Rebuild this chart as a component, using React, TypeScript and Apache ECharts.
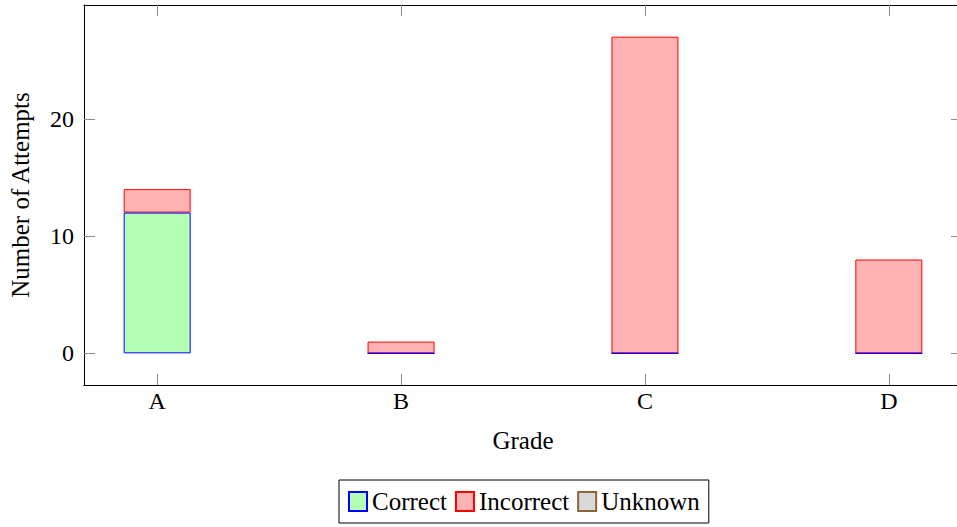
import React, { useEffect, useRef } from "react";
import * as echarts from "echarts";

const categories = ["A", "B", "C", "D"];
const correct = [12, 0, 0, 0];
const incorrect = [2, 1, 27, 8];
const unknown: number[] = [];
const yTicks = [0, 10, 20];
const seriesNames = ["Correct", "Incorrect", "Unknown"];

const FONT = "'Liberation Serif', 'Times New Roman', serif";

export default function App() {
  const ref = useRef<HTMLDivElement>(null);
  useEffect(() => {
    if (!ref.current) return;
    const chart = echarts.init(ref.current, null, { renderer: "svg" });
    const xIdx = categories.map((_, i) => i);
    // data given as [value, position] with encode so the stacked dimension is y
    const toData = (vals: number[]) => vals.map((v, i) => [v, i]);
    const tickStyle = { show: true, inside: true, length: 11, lineStyle: { color: "#8c8c8c", width: 1 } };
    const lineStyle = { show: true, onZero: false, lineStyle: { color: "#000", width: 1 } };
    const xMin = -0.3, xMax = 3.3, yMin = -2.7, yMax = 29.7;
    chart.setOption({
      animation: false,
      textStyle: { fontFamily: FONT, color: "#000" },
      grid: { left: 84, top: 5, right: -5, bottom: 142, outerBoundsMode: "none", containLabel: false },
      legend: {
        data: seriesNames,
        left: 339,
        top: 480,
        orient: "horizontal",
        icon: "rect",
        itemWidth: 18,
        itemHeight: 19,
        itemGap: 8,
        padding: [9, 9],
        borderColor: "#000",
        borderWidth: 1,
        borderRadius: 0,
        textStyle: { fontFamily: FONT, fontSize: 25, color: "#000" },
      },
      xAxis: [
        {
          type: "value",
          min: xMin,
          max: xMax,
          position: "bottom",
          name: "Grade",
          nameLocation: "middle",
          nameGap: 43,
          nameMoveOverlap: false,
          nameTextStyle: { fontFamily: FONT, fontSize: 25, color: "#000" },
          axisLine: lineStyle,
          axisTick: { ...tickStyle, customValues: xIdx },
          axisLabel: {
            customValues: xIdx,
            margin: 4,
            fontFamily: FONT,
            fontSize: 24,
            color: "#000",
            formatter: (v: number) => categories[Math.round(v)] ?? "",
          },
          splitLine: { show: false },
        },
        {
          type: "value",
          min: xMin,
          max: xMax,
          position: "top",
          axisLine: lineStyle,
          axisTick: { ...tickStyle, customValues: xIdx },
          axisLabel: { show: false },
          splitLine: { show: false },
        },
      ],
      yAxis: [
        {
          type: "value",
          min: yMin,
          max: yMax,
          position: "left",
          name: "Number of Attempts",
          nameLocation: "middle",
          nameGap: 51,
          nameMoveOverlap: false,
          nameTextStyle: { fontFamily: FONT, fontSize: 25, color: "#000" },
          axisLine: lineStyle,
          axisTick: { ...tickStyle, customValues: yTicks },
          axisLabel: { customValues: yTicks, margin: 10, fontFamily: FONT, fontSize: 24, color: "#000" },
          splitLine: { show: false },
        },
        {
          type: "value",
          min: yMin,
          max: yMax,
          position: "right",
          axisLine: lineStyle,
          axisTick: { ...tickStyle, customValues: yTicks },
          axisLabel: { show: false },
          splitLine: { show: false },
        },
      ],
      series: [
        {
          name: "Correct",
          type: "bar",
          stack: "g",
          barWidth: 67,
          z: 3,
          encode: { x: 1, y: 0 },
          data: toData(correct),
          itemStyle: { color: "#b3ffb3", borderColor: "#0000ff", borderWidth: 1 },
        },
        {
          name: "Incorrect",
          type: "bar",
          stack: "g",
          barWidth: 67,
          z: 2,
          encode: { x: 1, y: 0 },
          data: toData(incorrect),
          itemStyle: { color: "#ffb3b3", borderColor: "#ff0000", borderWidth: 1 },
        },
        {
          name: "Unknown",
          type: "bar",
          stack: "g",
          barWidth: 67,
          z: 2,
          encode: { x: 1, y: 0 },
          data: toData(unknown),
          itemStyle: { color: "#d9d9d9", borderColor: "#8b6438", borderWidth: 1 },
        },
      ],
    });
    return () => chart.dispose();
  }, []);
  return <div ref={ref} style={{ width: 957, height: 527, position: "absolute", left: 0, top: 0 }} />;
}
